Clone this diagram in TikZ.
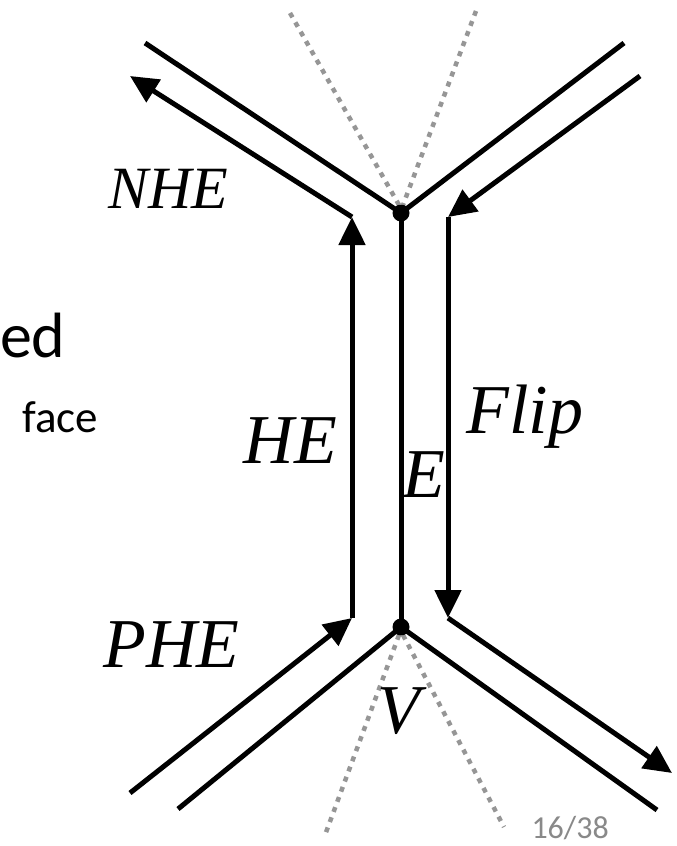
\documentclass[tikz,border=0pt]{standalone}
\usepackage{fontspec}
\setmainfont{Liberation Serif}
\newfontfamily\slidefont{Carlito}
\usetikzlibrary{arrows.meta}
\definecolor{dotgray}{RGB}{150,150,150}
\definecolor{pagegray}{RGB}{137,137,137}

\begin{document}
\begin{tikzpicture}[x=1pt, y=-1pt, line width=5pt,
  edge/.style={black},
  half/.style={black, -{Triangle[length=28pt, width=26pt]}},
  ghost/.style={dotgray, line width=4.5pt, dash pattern=on 5pt off 5.8pt},
  lbl/.style={inner sep=0pt, anchor=base west, font=\fontsize{70}{80}\selectfont\itshape}]

\useasboundingbox (0,0) rectangle (677,846);

% vertices of the edge
\coordinate (top) at (401,213);
\coordinate (bot) at (401,627);

% dotted neighbours
\coordinate (g1) at (290,13);  \coordinate (g1e) at (399,205);
\coordinate (g2) at (476,11);  \coordinate (g2e) at (403,205);
\coordinate (g3) at (399,635); \coordinate (g3e) at (325,835);
\coordinate (g4) at (403,635); \coordinate (g4e) at (504,827);
\draw[ghost] (g1) -- (g1e);
\draw[ghost] (g2) -- (g2e);
\draw[ghost] (g3) -- (g3e);
\draw[ghost] (g4) -- (g4e);

% edges
\coordinate (tl) at (145,43);
\coordinate (tr) at (624,43);
\coordinate (bl) at (178,809);
\coordinate (br) at (657,810);
\draw[edge] (tl) -- (top) -- (tr);
\draw[edge] (bl) -- (bot) -- (br);
\draw[edge] (top) -- (bot);

% half edges
\coordinate (he0) at (352,618);
\coordinate (he1) at (352,217);
\coordinate (nhe) at (130,76);
\coordinate (phe) at (130,793);
\draw[half] (he0) -- (he1);
\draw[half] (he1) -- (nhe);
\draw[half] (phe) -- (he0);

\coordinate (fl0) at (640,76);
\coordinate (fl1) at (448,217);
\coordinate (fl2) at (448,618);
\coordinate (fl3) at (672,773);
\draw[half] (fl0) -- (fl1);
\draw[half] (fl1) -- (fl2);
\draw[half] (fl2) -- (fl3);

\fill[black] (top) circle (8.5);
\fill[black] (bot) circle (8.5);

% labels
\node[lbl, font=\fontsize{60}{70}\selectfont\itshape] (lnhe) at (106,208) {NHE};
\node[lbl] (lhe) at (241,463) {HE};
\node[lbl] (le) at (400,497) {E};
\node[lbl] (lflip) at (464,433) {Flip};
\node[lbl] (lphe) at (101,667) {PHE};
\node[lbl] (lv) at (375,733) {V};

\node[inner sep=0pt, anchor=base east, font=\slidefont\fontsize{64}{70}\selectfont] (ed) at (68,357) {ed};
\node[inner sep=0pt, anchor=base west, font=\slidefont\fontsize{45}{50}\selectfont] (face) at (20,432) {face};
\node[inner sep=0pt, anchor=base west, text=pagegray, font=\slidefont\fontsize{32}{36}\selectfont] (pg) at (529,838) {16/38};

\end{tikzpicture}
\end{document}
